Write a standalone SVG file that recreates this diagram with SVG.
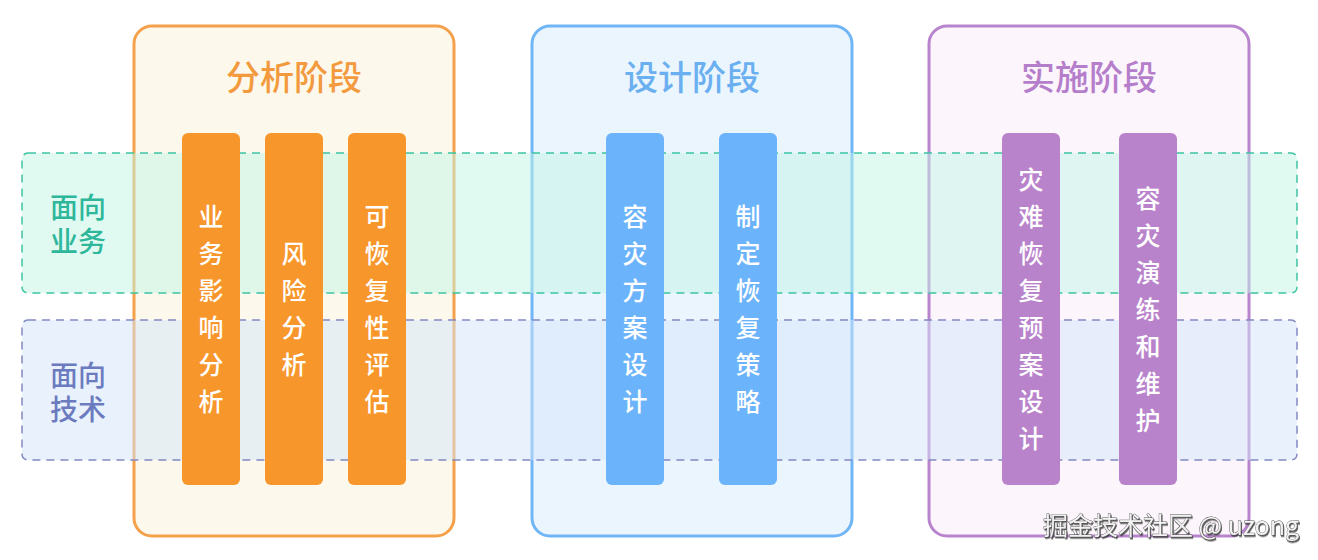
<svg xmlns="http://www.w3.org/2000/svg" width="1318" height="560" viewBox="0 0 1318 560">
<defs>
<style>
text{font-family:"Noto Sans CJK SC","Noto Sans",sans-serif;text-anchor:middle;}
.phase{stroke-width:3;}
.title{font-size:34px;font-weight:500;}
.bar text{fill:#fff;font-size:25px;font-weight:500;}
.lane{stroke-width:1.5;stroke-dasharray:8 6;}
.lanelbl{font-size:28px;font-weight:500;}
.wm{font-size:25px;fill:#f2f2f2;stroke:#555;stroke-width:0.8;paint-order:stroke;}
</style>
<filter id="sh" x="-5%" y="-20%" width="110%" height="150%"><feDropShadow dx="1" dy="1.5" stdDeviation="0.6" flood-color="#333" flood-opacity="0.8"/></filter>
</defs>
<rect width="1318" height="560" fill="#fff"/>

<g id="phase-analysis">
<rect class="phase" x="134" y="26" width="320" height="510" rx="18" fill="#FDF8EC" stroke="#F5A04A"/>
<text class="title" x="294" y="90" fill="#F39A3E">分析阶段</text>
</g>
<g id="phase-design">
<rect class="phase" x="532" y="26" width="320" height="510" rx="18" fill="#EBF5FE" stroke="#70B5F6"/>
<text class="title" x="692" y="90" fill="#6AB0F0">设计阶段</text>
</g>
<g id="phase-impl">
<rect class="phase" x="929" y="26" width="320" height="510" rx="18" fill="#FCF5FC" stroke="#B884CD"/>
<text class="title" x="1089" y="90" fill="#B57ECB">实施阶段</text>
</g>

<g id="lane-business">
<rect class="lane" x="22" y="153" width="1275" height="140" rx="6" fill="#C2F6E6" fill-opacity="0.5" stroke="#3DC3A2"/>
<text class="lanelbl" fill="#2EB79A"><tspan x="78" y="218">面向</tspan><tspan x="78" y="252">业务</tspan></text>
</g>
<g id="lane-tech">
<rect class="lane" x="22" y="320" width="1275" height="140" rx="6" fill="#D4E5FA" fill-opacity="0.5" stroke="#8189C2"/>
<text class="lanelbl" fill="#6C7BBF"><tspan x="78" y="386">面向</tspan><tspan x="78" y="420">技术</tspan></text>
</g>

<g id="bar-bia" class="bar">
<rect x="182" y="133" width="58" height="352" rx="6" fill="#F7962B"/>
<text><tspan x="211" y="226">业</tspan><tspan x="211" y="263">务</tspan><tspan x="211" y="300">影</tspan><tspan x="211" y="337">响</tspan><tspan x="211" y="374">分</tspan><tspan x="211" y="411">析</tspan></text>
</g>
<g id="bar-risk" class="bar">
<rect x="265" y="133" width="58" height="352" rx="6" fill="#F7962B"/>
<text><tspan x="294" y="263">风</tspan><tspan x="294" y="300">险</tspan><tspan x="294" y="337">分</tspan><tspan x="294" y="374">析</tspan></text>
</g>
<g id="bar-recover" class="bar">
<rect x="348" y="133" width="58" height="352" rx="6" fill="#F7962B"/>
<text><tspan x="377" y="226">可</tspan><tspan x="377" y="263">恢</tspan><tspan x="377" y="300">复</tspan><tspan x="377" y="337">性</tspan><tspan x="377" y="374">评</tspan><tspan x="377" y="411">估</tspan></text>
</g>
<g id="bar-dr-plan" class="bar">
<rect x="606" y="133" width="58" height="352" rx="6" fill="#6BB3FA"/>
<text><tspan x="635" y="226">容</tspan><tspan x="635" y="263">灾</tspan><tspan x="635" y="300">方</tspan><tspan x="635" y="337">案</tspan><tspan x="635" y="374">设</tspan><tspan x="635" y="411">计</tspan></text>
</g>
<g id="bar-strategy" class="bar">
<rect x="719" y="133" width="58" height="352" rx="6" fill="#6BB3FA"/>
<text><tspan x="748" y="226">制</tspan><tspan x="748" y="263">定</tspan><tspan x="748" y="300">恢</tspan><tspan x="748" y="337">复</tspan><tspan x="748" y="374">策</tspan><tspan x="748" y="411">略</tspan></text>
</g>
<g id="bar-drp" class="bar">
<rect x="1002" y="133" width="58" height="352" rx="6" fill="#B983CC"/>
<text><tspan x="1031" y="189">灾</tspan><tspan x="1031" y="226">难</tspan><tspan x="1031" y="263">恢</tspan><tspan x="1031" y="300">复</tspan><tspan x="1031" y="337">预</tspan><tspan x="1031" y="374">案</tspan><tspan x="1031" y="411">设</tspan><tspan x="1031" y="448">计</tspan></text>
</g>
<g id="bar-drill" class="bar">
<rect x="1119" y="133" width="58" height="352" rx="6" fill="#B983CC"/>
<text><tspan x="1148" y="208">容</tspan><tspan x="1148" y="245">灾</tspan><tspan x="1148" y="282">演</tspan><tspan x="1148" y="319">练</tspan><tspan x="1148" y="356">和</tspan><tspan x="1148" y="393">维</tspan><tspan x="1148" y="430">护</tspan></text>
</g>

<g id="connectors"></g>

<text class="wm" x="1171" y="535" filter="url(#sh)">掘金技术社区 @ uzong</text>
</svg>
